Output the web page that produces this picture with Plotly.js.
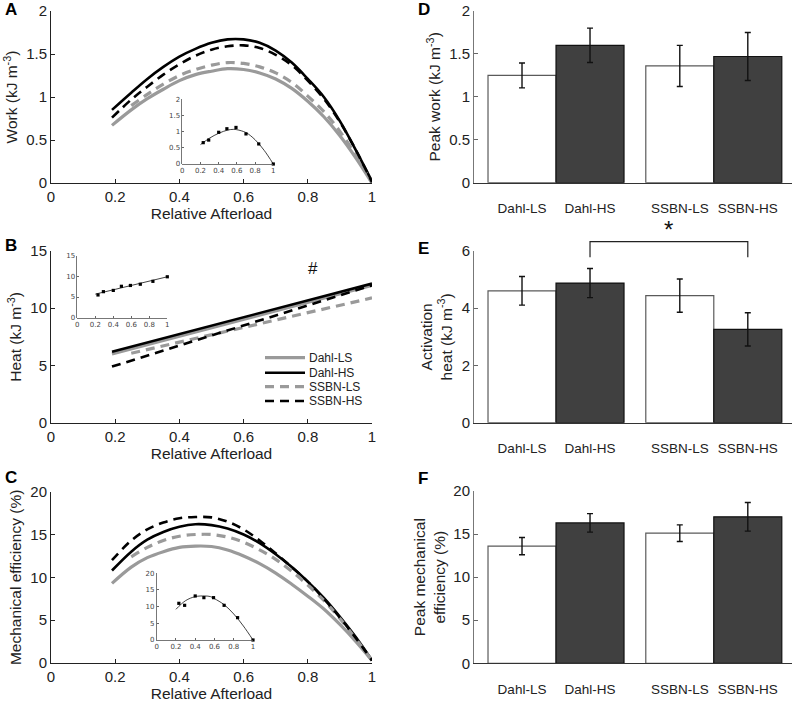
<!DOCTYPE html>
<html><head><meta charset="utf-8">
<script src="https://cdn.plot.ly/plotly-3.0.1.min.js"></script>
<style>html,body{margin:0;padding:0;background:#fff}</style>
</head><body>
<div id="chart" style="width:796px;height:703px"></div>
<script>
// ---------- Panels A-C: fitted curves vs relative afterload ----------
const seriesNames = ['Dahl-LS','Dahl-HS','SSBN-LS','SSBN-HS'];
const xFit      = [0.19,0.25,0.3,0.35,0.4,0.45,0.5,0.55,0.6,0.65,0.7,0.75,0.8,0.85,0.9,0.95,1.0];
const xFitSSBNLS= [0.25,0.3,0.35,0.4,0.45,0.5,0.55,0.6,0.65,0.7,0.75,0.8,0.85,0.9,0.95,1.0];

// A: Work (kJ m-3)
const workDahlLS = [0.67,0.85,0.98,1.09,1.19,1.26,1.30,1.33,1.32,1.28,1.21,1.10,0.95,0.77,0.55,0.29,0.0];
const workDahlHS = [0.85,1.05,1.21,1.35,1.47,1.56,1.63,1.67,1.67,1.63,1.54,1.40,1.21,1.00,0.72,0.38,0.02];
const workSSBNLS = [0.90,1.03,1.15,1.25,1.32,1.37,1.40,1.39,1.35,1.28,1.17,1.01,0.83,0.60,0.32,0.0];
const workSSBNHS = [0.76,0.97,1.12,1.26,1.38,1.48,1.55,1.59,1.60,1.57,1.49,1.37,1.19,0.98,0.71,0.38,0.01];

// B: Heat (kJ m-3), straight fits
const heatX       = [0.19,1.0];
const heatXSSBNLS = [0.25,1.0];
const heatDahlLS = [6.0,12.0];
const heatDahlHS = [6.2,12.15];
const heatSSBNLS = [6.07,10.9];
const heatSSBNHS = [4.9,12.0];

// C: Mechanical efficiency (%)
const effDahlLS = [9.3,11.2,12.3,13.0,13.5,13.65,13.6,13.2,12.5,11.6,10.5,9.2,7.8,6.3,4.5,2.5,0.3];
const effDahlHS = [10.8,13.0,14.4,15.3,15.9,16.2,16.1,15.7,15.0,14.0,12.7,11.2,9.5,7.6,5.4,3.0,0.3];
const effSSBNLS = [12.4,13.5,14.3,14.8,15.0,15.0,14.7,14.1,13.2,12.1,10.7,9.1,7.3,5.2,2.8,0.3];
const effSSBNHS = [12.0,14.3,15.6,16.4,16.9,17.05,17.0,16.5,15.6,14.3,12.8,11.2,9.5,7.5,5.3,2.9,0.3];

// Insets: example measured points and fits
const insetPtsX   = [0.23,0.29,0.4,0.49,0.59,0.7,0.84,1.0];
const insetWorkPts= [0.66,0.74,0.98,1.09,1.13,0.93,0.62,0.0];
const insetHeatPts= [5.5,6.3,6.6,7.6,7.8,8.1,8.8,9.9];
const insetEffPts = [11.0,10.4,13.2,12.7,12.7,10.4,6.7,0.0];
const insetFitX   = [0.2,0.3,0.4,0.5,0.56,0.6,0.7,0.8,0.9,1.0];
const insetWorkFit= [0.60,0.80,0.95,1.05,1.07,1.06,0.97,0.75,0.42,0.0];
const insetEffFit = [9.2,11.8,13.0,13.2,13.0,12.4,10.6,7.8,4.2,0.0];
const insetHeatFitX = [0.2,1.0];
const insetHeatFit  = [5.7,9.9];

// ---------- Panels D-F: bar charts ----------
const groups      = ['Dahl-LS','Dahl-HS','SSBN-LS','SSBN-HS'];
const strainGroup = [0,0,1,1];
const peakWork    = [1.25,1.60,1.36,1.47];
const peakWorkErr = [0.145,0.20,0.24,0.28];
const actHeat     = [4.61,4.88,4.44,3.26];
const actHeatErr  = [0.50,0.51,0.58,0.58];
const peakEff     = [13.6,16.3,15.1,17.0];
const peakEffErr  = [1.0,1.07,0.97,1.66];

// ---------- styles ----------
const FONT = 'Liberation Sans, Arial, sans-serif';
const GRAY = '#9a9a9a';
const styles = {
  'Dahl-LS': {color: GRAY, width: 3.2, dash: 'solid'},
  'Dahl-HS': {color: '#000', width: 2.6, dash: 'solid'},
  'SSBN-LS': {color: GRAY, width: 3.2, dash: '9px,6px'},
  'SSBN-HS': {color: '#000', width: 2.6, dash: '9px,6px'}
};
const groupGap = 0.32;
const xpos = groups.map((g, i) => 1 + i + strainGroup[i] * groupGap);

const traces = [];
function curveSet(xa, ya, xs, ys) {
  seriesNames.forEach((n, k) => {
    traces.push({type:'scatter', mode:'lines', x: xs[k], y: ys[k], name: n,
      xaxis: xa, yaxis: ya, showlegend: false, hoverinfo:'skip',
      line: Object.assign({shape:'spline', smoothing:1}, styles[n])});
  });
}
curveSet('x','y', [xFit,xFit,xFitSSBNLS,xFit], [workDahlLS,workDahlHS,workSSBNLS,workSSBNHS]);
curveSet('x2','y2', [heatX,heatX,heatXSSBNLS,heatX], [heatDahlLS,heatDahlHS,heatSSBNLS,heatSSBNHS]);
curveSet('x3','y3', [xFit,xFit,xFitSSBNLS,xFit], [effDahlLS,effDahlHS,effSSBNLS,effSSBNHS]);

function inset(xa, ya, fx, fy, py) {
  traces.push({type:'scatter', mode:'lines', x: fx, y: fy, xaxis: xa, yaxis: ya, showlegend:false,
    line:{color:'#111', width:0.8, shape:'spline'}, hoverinfo:'skip'});
  traces.push({type:'scatter', mode:'markers', x: insetPtsX, y: py, xaxis: xa, yaxis: ya, showlegend:false,
    marker:{symbol:'square', size:3.2, color:'#000'}, cliponaxis:false, hoverinfo:'skip'});
}

function bars(xa, ya, vals, errs) {
  traces.push({type:'bar', x: xpos, y: vals, width: 1, xaxis: xa, yaxis: ya, showlegend:false,
    marker:{color: ['#ffffff','#404040','#ffffff','#404040'],
            line:{color:['#5a5a5a','#111111','#5a5a5a','#111111'], width:1.2}},
    error_y:{type:'data', array: errs, visible:true, color:'#111', thickness:1.4, width:3},
    hoverinfo:'skip'});
}
bars('x4','y4', peakWork, peakWorkErr);
bars('x5','y5', actHeat, actHeatErr);
bars('x6','y6', peakEff, peakEffErr);

inset('x7','y7', insetFitX, insetWorkFit, insetWorkPts);
inset('x8','y8', insetHeatFitX, insetHeatFit, insetHeatPts);
inset('x9','y9', insetFitX, insetEffFit, insetEffPts);

// ---------- axes ----------
const W = 796, H = 703;
const dx = (a, b) => [a / W, b / W];
const dy = (top, bot) => [1 - bot / H, 1 - top / H];
const TICK = 15, TITLE = 15.5;

function lineX(anchor) {
  return {domain: dx(51, 372), anchor, range:[0,1], tick0:0, dtick:0.2, ticks:'inside', ticklen:4,
    tickcolor:'#222', showline:true, linecolor:'#222', linewidth:1, showgrid:false, zeroline:false,
    tickfont:{size:TICK, color:'#222'},
    title:{text:'Relative Afterload', font:{size:TITLE, color:'#222'}, standoff:4}};
}
function lineY(anchor, dom, range, dtick, title) {
  return {domain: dom, anchor, range, tick0:0, dtick, ticks:'inside', ticklen:4, tickcolor:'#222',
    showline:true, linecolor:'#222', linewidth:1, showgrid:false, zeroline:false,
    tickfont:{size:TICK, color:'#222'}, title:{text:title, font:{size:TITLE, color:'#222'}, standoff:4}};
}
function barX(anchor) {
  return {domain: dx(474, 792), anchor, range:[xpos[0]-0.706, xpos[0]-0.706+4.676], tickvals: xpos, ticktext: groups,
    ticks:'', showline:true, linecolor:'#333', linewidth:1, showgrid:false, zeroline:false,
    tickfont:{size:13.5, color:'#222'}, ticklabelstandoff:13};
}
function barY(anchor, dom, range, dtick, title, standoff) {
  return {domain: dom, anchor, range, tick0:0, dtick, ticks:'inside', ticklen:4, tickcolor:'#666',
    showline:true, linecolor:'#777', linewidth:1, showgrid:false, zeroline:false,
    tickfont:{size:TICK, color:'#222'}, title:{text:title, font:{size:TITLE, color:'#222'}, standoff}};
}
function insX(anchor, d) {
  return {domain: d, anchor, range:[0,1], tick0:0, dtick:0.2, ticks:'inside', ticklen:2, tickcolor:'#666',
    showline:true, linecolor:'#555', linewidth:0.8, showgrid:false, zeroline:false,
    tickfont:{size:7, color:'#444', family:'DejaVu Sans'}};
}
function insY(anchor, d, range, dtick) {
  return {domain: d, anchor, range, tick0:0, dtick, ticks:'inside', ticklen:2, tickcolor:'#666',
    showline:true, linecolor:'#555', linewidth:0.8, showgrid:false, zeroline:false,
    tickfont:{size:7, color:'#444', family:'DejaVu Sans'}};
}

const domA = dy(11, 183), domB = dy(251, 422.7), domC = dy(491.7, 663);
const domD = dy(11, 182.7), domE = dy(251, 422.7), domF = dy(491, 663.3);

const letters = [['A',3,10],['B',3,245],['C',3,477],['D',416,10],['E',416,248],['F',416,478]].map(([t,x,y]) => ({
  text:'<b>'+t+'</b>', xref:'paper', yref:'paper', x:x/W, y:1-y/H, xanchor:'left', yanchor:'middle',
  showarrow:false, font:{size:17, color:'#000', family: FONT}}));

// manual legend (panel B)
const legRows = [357.7, 372.7, 386.7, 401];
const legendShapes = seriesNames.map((n, k) => ({type:'line', xref:'paper', yref:'paper',
  x0: 265/W, x1: 305/W, y0: 1-legRows[k]/H, y1: 1-legRows[k]/H,
  line:{color: styles[n].color, width: styles[n].width, dash: styles[n].dash}}));
const legendText = seriesNames.map((n, k) => ({text: n, xref:'paper', yref:'paper', x: 307/W, y: 1-legRows[k]/H,
  xanchor:'left', yanchor:'middle', showarrow:false, font:{size:12, color:'#222'}}));

const bracketY0 = 1 - 257.3 / H, bracketY1 = 1 - 241.7 / H;
const layout = {
  width: W, height: H, margin:{l:0,r:0,t:0,b:0}, paper_bgcolor:'#fff', plot_bgcolor:'rgba(0,0,0,0)',
  font:{family: FONT, color:'#222'},
  showlegend: false,
  xaxis: lineX('y'), yaxis: lineY('x', domA, [0,2], 0.5, 'Work (kJ m<sup>-3</sup>)'),
  xaxis2: lineX('y2'), yaxis2: lineY('x2', domB, [0,15], 5, 'Heat (kJ m<sup>-3</sup>)'),
  xaxis3: lineX('y3'), yaxis3: lineY('x3', domC, [0,20], 5, 'Mechanical efficiency (%)'),
  xaxis4: barX('y4'), yaxis4: barY('x4', domD, [0,2], 0.5, 'Peak work (kJ m<sup>-3</sup>)', 4),
  xaxis5: barX('y5'), yaxis5: barY('x5', domE, [0,6], 2, 'Activation<br>heat (kJ m<sup>-3</sup>)', 5),
  xaxis6: barX('y6'), yaxis6: barY('x6', domF, [0,20], 5, 'Peak mechanical<br>efficiency (%)', 3),
  xaxis7: insX('y7', dx(182.3, 273.3)), yaxis7: insY('x7', dy(99.3, 164), [0,2], 0.5),
  xaxis8: insX('y8', dx(77.3, 167.3)),  yaxis8: insY('x8', dy(255.7, 317.7), [0,15], 5),
  xaxis9: insX('y9', dx(156.7, 253)),   yaxis9: insY('x9', dy(573.3, 640), [0,20], 5),
  shapes:[{type:'path', xref:'x5', yref:'paper',
           path:`M${xpos[1]},${bracketY0} L${xpos[1]},${bracketY1} L${xpos[3]},${bracketY1} L${xpos[3]},${bracketY0}`,
           line:{color:'#222', width:1.2}}].concat(legendShapes),
  annotations: letters.concat(legendText, [
    {text:'#', xref:'x2', yref:'y2', x:0.816, y:13.5, showarrow:false, font:{size:17, color:'#111'}},
    {text:'*', xref:'x5', yref:'paper', x:(xpos[1]+xpos[3])/2, y:bracketY1 - 0.004, yanchor:'bottom', showarrow:false,
     font:{size:24, color:'#111'}}
  ])
};

Plotly.newPlot('chart', traces, layout, {staticPlot:true, displayModeBar:false});
</script>
</body></html>
